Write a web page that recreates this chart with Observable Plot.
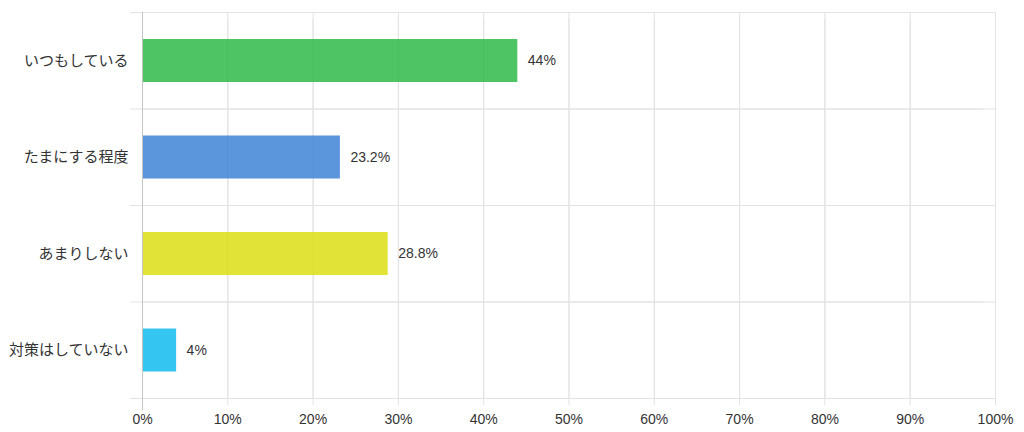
<!DOCTYPE html>
<html>
<head>
<meta charset="utf-8">
<script src="https://cdn.jsdelivr.net/npm/d3@7"></script>
<script src="https://cdn.jsdelivr.net/npm/@observablehq/plot@0.6"></script>
<style>
  html, body { margin: 0; padding: 0; background: #fff; }
  #chart { width: 1024px; height: 432px; }
</style>
</head>
<body>
<div id="chart"></div>
<script>
const categories = ["いつもしている", "たまにする程度", "あまりしない", "対策はしていない"];
const values = [44, 23.2, 28.8, 4];
const colors = ["#2FBA4A", "#3E83D6", "#DCDF13", "#10BBED"];
const xTicks = [0, 10, 20, 30, 40, 50, 60, 70, 80, 90, 100];
const tickLabels = xTicks.map(d => d + "%");

const data = categories.map((c, i) => ({c, v: values[i], i}));
const edges = d3.range(categories.length + 1);
const font = "'Liberation Sans', Arial, 'Noto Sans CJK JP', sans-serif";
const grid = "#e3e3e3";

const chart = Plot.plot({
  width: 1024,
  height: 432,
  marginLeft: 142,
  marginRight: 29,
  marginTop: 12,
  marginBottom: 34,
  style: {fontFamily: font, fontSize: "14px", color: "#333", background: "#fff"},
  x: {domain: [0, 100], axis: null},
  y: {domain: [0, categories.length], reverse: true, axis: null},
  color: {domain: categories, range: colors},
  marks: [
    Plot.ruleX(xTicks, {x: d => d, stroke: grid}),
    Plot.ruleX(xTicks, {x: d => d, stroke: grid, dy: 7}),
    Plot.ruleY(edges, {y: d => d, stroke: grid}),
    Plot.ruleY(edges, {y: d => d, stroke: grid, dx: -12}),
    Plot.rectX(data, {
      x1: 0, x2: "v", y1: "i", y2: d => d.i + 1,
      insetTop: 27, insetBottom: 26.5,
      fill: "c", fillOpacity: 0.85
    }),
    Plot.ruleX([0], {x: d => d, stroke: "#c4c4c4"}),
    Plot.ruleX([0], {x: d => d, stroke: "#c4c4c4", dy: 12}),
    Plot.text(data, {
      x: 0, y: d => d.i + 0.5, text: "c",
      textAnchor: "end", dx: -14, fontSize: 15, fill: "#333"
    }),
    Plot.text(data, {
      x: "v", y: d => d.i + 0.5, text: d => d.v + "%",
      textAnchor: "start", dx: 10, fontSize: 14, fill: "#333"
    }),
    Plot.text(xTicks, {
      x: d => d, y: categories.length, text: (d, i) => tickLabels[i],
      frameAnchor: "bottom", lineAnchor: "top", dy: 16, fontSize: 14, fill: "#333"
    })
  ]
});
document.getElementById("chart").appendChild(chart);
</script>
</body>
</html>
